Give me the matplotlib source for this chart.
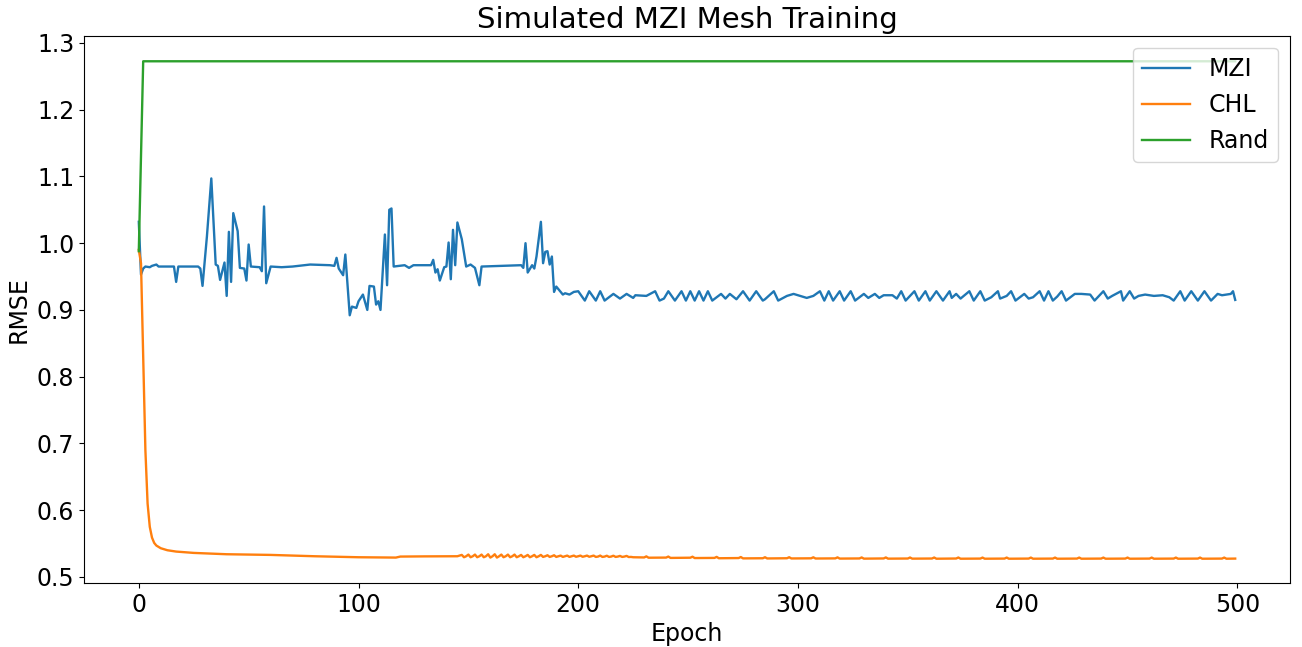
import numpy as np
import matplotlib
matplotlib.use('Agg')
from matplotlib import pyplot as plt

# ---------------------------------------------------------------------------
#   RMSE per epoch (MZI mesh, contrastive hebbian, random baseline)
# ---------------------------------------------------------------------------
P, T = 0.928, 0.914   # top / bottom of the late MZI ripple

mzi_epoch = [0, 1, 2, 3, 5, 6, 8, 9, 16, 17, 18, 27, 28, 29, 31, 33, 35, 36, 37, 39,
             40, 41, 42, 43, 45, 46, 48, 49, 50, 51, 55, 56, 57, 58, 60, 65, 70, 78, 87, 89,
             90, 91, 93, 94, 96, 97, 99, 100, 102, 104, 105, 107, 108, 109, 110, 112, 113, 114, 115, 116,
             121, 123, 125, 133, 134, 135, 136, 137, 139, 140, 141, 142, 143, 144, 145, 147, 149, 151, 153, 155,
             156, 174, 175, 176, 177, 179, 180, 181, 183, 184, 185, 186, 187, 188, 189, 190, 193, 194, 196, 198,
             200, 203, 205, 208, 210, 212, 214, 216, 219, 222, 225, 226, 231, 235, 237, 239, 241, 244, 247, 249,
             251, 253, 255, 257, 259, 261, 265, 267, 269, 272, 275, 278, 281, 284, 285, 289, 291, 295, 298, 300,
             304, 307, 310, 312, 314, 316, 319, 321, 324, 326, 330, 332, 335, 337, 339, 343, 345, 347, 349, 353,
             355, 358, 360, 363, 366, 369, 370, 372, 374, 378, 380, 383, 385, 388, 391, 392, 395, 397, 399, 403,
             405, 407, 410, 412, 414, 416, 418, 420, 422, 426, 429, 433, 435, 439, 441, 443, 447, 448, 451, 453,
             455, 458, 462, 466, 469, 471, 474, 476, 479, 482, 485, 488, 491, 493, 497, 498, 499]
mzi_rmse = [1.032, 0.953, 0.962, 0.965, 0.964, 0.966, 0.968, 0.965, 0.965, 0.942, 0.965, 0.965, 0.962, 0.936, 1.010, 1.097, 0.968, 0.966, 0.945, 0.971,
            0.921, 1.017, 0.942, 1.045, 1.018, 0.963, 0.962, 0.944, 0.998, 0.965, 0.964, 0.958, 1.055, 0.940, 0.965, 0.964, 0.965, 0.968, 0.967, 0.966,
            0.978, 0.962, 0.952, 0.983, 0.892, 0.905, 0.903, 0.913, 0.923, 0.900, 0.936, 0.935, 0.908, 0.913, 0.900, 1.013, 0.937, 1.050, 1.052, 0.965,
            0.967, 0.963, 0.967, 0.967, 0.975, 0.956, 0.961, 0.944, 0.964, 0.965, 1.001, 0.946, 1.020, 0.967, 1.031, 1.006, 0.965, 0.968, 0.963, 0.937,
            0.965, 0.967, 0.963, 1.000, 0.956, 0.967, 0.962, 0.980, 1.032, 0.970, 0.987, 0.988, 0.968, 0.980, 0.927, 0.935, 0.923, 0.925, 0.923, 0.927,
            P, T, P, T, P, T, 0.919, 0.924, 0.917, 0.924, 0.918, 0.922, 0.921, P, T, 0.917, P, T, P, T,
            P, T, P, T, P, T, 0.924, 0.917, 0.924, 0.916, P, T, P, T, 0.916, P, T, 0.921, 0.924, 0.922,
            0.918, 0.921, P, T, P, T, P, T, P, T, 0.924, 0.918, 0.924, 0.918, 0.922, 0.922, 0.917, P, T, P,
            T, P, T, P, T, P, 0.918, 0.924, 0.917, P, T, P, T, 0.919, P, 0.917, 0.921, P, T, 0.924,
            0.917, 0.919, P, T, P, T, 0.920, P, T, 0.924, 0.924, 0.923, T, P, 0.917, 0.921, P, T, P, 0.917,
            0.921, 0.923, 0.921, 0.922, 0.919, T, P, T, P, T, P, T, 0.924, 0.922, 0.924, 0.928, 0.915]

chl_epoch = [0, 1, 2, 3, 4, 5, 6, 7, 8, 10, 13, 17, 25, 40, 60, 80, 100, 117, 119, 130,
             145, 147, 148, 149, 150, 151, 152, 153, 154, 155, 156, 157, 158, 159, 160, 161, 162, 163, 164, 165,
             166, 167, 168, 169, 170, 171, 172, 173, 174, 175, 176, 177, 178, 179, 180, 181, 182, 183, 184, 185,
             186, 187, 188, 189, 190, 191, 192, 193, 194, 195, 196, 197, 198, 199, 200, 201, 202, 203, 204, 205,
             206, 207, 208, 209, 210, 211, 212, 213, 214, 215, 216, 217, 218, 219, 220, 221, 222, 223, 224, 225,
             230, 231, 232, 240, 241, 242, 251, 252, 253, 262, 263, 264, 273, 274, 275, 284, 285, 286, 295, 296,
             297, 306, 307, 308, 317, 318, 319, 328, 329, 330, 339, 340, 341, 350, 351, 352, 361, 362, 363, 372,
             373, 374, 383, 384, 385, 394, 395, 396, 405, 406, 407, 416, 417, 418, 427, 428, 429, 438, 439, 440,
             449, 450, 451, 460, 461, 462, 471, 472, 473, 482, 483, 484, 493, 494, 495, 499]
chl_rmse = [0.990, 0.970, 0.830, 0.690, 0.610, 0.575, 0.559, 0.551, 0.547, 0.543, 0.540, 0.538, 0.536, 0.534, 0.533, 0.531, 0.5295, 0.529, 0.5305, 0.5308,
            0.531, 0.533, 0.5295, 0.531, 0.5335, 0.5295, 0.531, 0.5335, 0.5295, 0.531, 0.5335, 0.5295, 0.531, 0.534, 0.529, 0.531, 0.534, 0.529, 0.531, 0.5335,
            0.5295, 0.531, 0.5335, 0.5295, 0.531, 0.5335, 0.5295, 0.531, 0.533, 0.5295, 0.531, 0.533, 0.5295, 0.531, 0.533, 0.5295, 0.531, 0.533, 0.530, 0.531,
            0.5325, 0.530, 0.531, 0.5325, 0.530, 0.531, 0.532, 0.530, 0.531, 0.532, 0.530, 0.531, 0.532, 0.5302, 0.531, 0.532, 0.5302, 0.531, 0.532, 0.5302,
            0.531, 0.532, 0.530, 0.5305, 0.532, 0.530, 0.5305, 0.5318, 0.530, 0.5305, 0.5318, 0.530, 0.5305, 0.5315, 0.530, 0.5305, 0.5315, 0.5298, 0.530, 0.5295,
            0.5292, 0.5308, 0.5288, 0.529, 0.5305, 0.5285, 0.5288, 0.5303, 0.5283, 0.5285, 0.530, 0.528, 0.5283, 0.5298, 0.5278, 0.528, 0.5295, 0.5277, 0.528, 0.5295,
            0.5277, 0.5279, 0.5294, 0.5276, 0.5278, 0.5293, 0.5275, 0.5277, 0.5292, 0.5274, 0.5277, 0.5292, 0.5274, 0.5276, 0.5291, 0.5274, 0.5276, 0.5291, 0.5273, 0.5276,
            0.5291, 0.5273, 0.5275, 0.529, 0.5273, 0.5275, 0.529, 0.5273, 0.5275, 0.529, 0.5273, 0.5275, 0.529, 0.5273, 0.5275, 0.529, 0.5273, 0.5275, 0.529, 0.5273,
            0.5275, 0.529, 0.5273, 0.5275, 0.529, 0.5273, 0.5275, 0.529, 0.5273, 0.5275, 0.529, 0.5273, 0.5275, 0.529, 0.5273, 0.5275]

rand_epoch = [0, 2, 499]
rand_rmse = [0.988, 1.2725, 1.2725]

# ---------------------------------------------------------------------------
#   Disegnare grafico
# ---------------------------------------------------------------------------
fig = plt.figure(figsize=(13.02, 6.47), dpi=100)
ax = fig.add_axes([0.0645, 0.099, 0.9263, 0.8455])

ax.plot(mzi_epoch, mzi_rmse, color='#1f77b4', lw=1.7, label='MZI')
ax.plot(chl_epoch, chl_rmse, color='#ff7f0e', lw=1.7, label='CHL')
ax.plot(rand_epoch, rand_rmse, color='#2ca02c', lw=1.7, label='Rand')

ax.set_xlim(-24.95, 523.95)
ax.set_ylim(0.491, 1.3105)
ax.set_xticks([0, 100, 200, 300, 400, 500])
ax.set_yticks(np.arange(0.5, 1.31, 0.1))
ax.tick_params(labelsize=17)

ax.set_title('Simulated MZI Mesh Training', fontsize=21)
ax.set_xlabel('Epoch', fontsize=17)
ax.set_ylabel('RMSE', fontsize=17)
ax.legend(loc='upper right', fontsize=17)

fig.savefig('out.png', dpi=100)
